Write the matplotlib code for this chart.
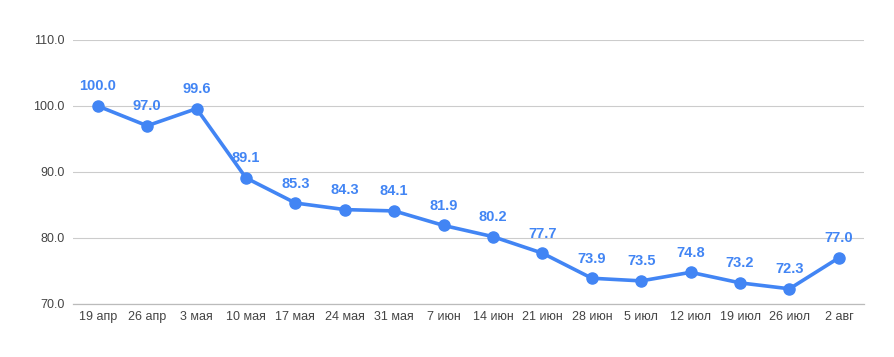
import matplotlib
matplotlib.use('Agg')
import matplotlib.pyplot as plt

# DATA
dates = ['19 апр', '26 апр', '3 мая', '10 мая', '17 мая', '24 мая', '31 мая', '7 июн',
         '14 июн', '21 июн', '28 июн', '5 июл', '12 июл', '19 июл', '26 июл', '2 авг']
values = [100.0, 97.0, 99.6, 89.1, 85.3, 84.3, 84.1, 81.9,
          80.2, 77.7, 73.9, 73.5, 74.8, 73.2, 72.3, 77.0]
yticks = [70, 80, 90, 100, 110]

blue = '#4285f4'
plt.rcParams['font.family'] = ['Liberation Sans', 'DejaVu Sans']

fig = plt.figure(figsize=(8.94, 3.57), dpi=100)
ax = fig.add_axes([0.0817, 0.1485, 0.8843, 0.7395])

x = list(range(len(values)))
ax.plot(x, values, color=blue, lw=2.6, marker='o', ms=8, solid_capstyle='round', zorder=3)

for xi, v in zip(x, values):
    ax.annotate(f'{v:.1f}', (xi, v), xytext=(0, 9), textcoords='offset points',
                ha='center', va='bottom', color=blue, fontsize=10.5, fontweight='bold')

ax.set_xlim(-0.5, len(values) - 0.5)
ax.set_ylim(70, 110)
ax.set_yticks(yticks)
ax.set_yticklabels([f'{t:.1f}' for t in yticks])
ax.set_xticks(x)
ax.set_xticklabels(dates)
ax.tick_params(length=0, labelsize=9, labelcolor='#444444')
ax.tick_params(axis='y', pad=6)
ax.tick_params(axis='x', pad=5)
ax.grid(axis='y', color='#cccccc', lw=0.8)
ax.axhline(70, color='#bbbbbb', lw=0.9, clip_on=False, zorder=1)
for s in ax.spines.values():
    s.set_visible(False)
ax.set_axisbelow(True)

fig.savefig('out.png', dpi=100)
